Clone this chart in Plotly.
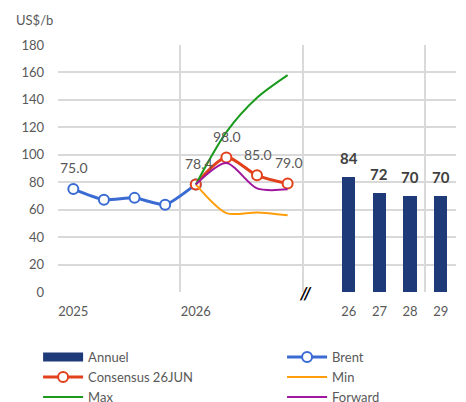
import plotly.graph_objects as go

# category positions: monthly points 0-7, a gap at 8, annual bars 9-12
brent_x = [0, 1, 2, 3, 4]
brent = [75.0, 67.2, 68.6, 63.5, 78.4]

fc_x = [4, 5, 6, 7]
consensus = [78.4, 98.0, 85.0, 79.0]
fc_min = [78.4, 57.5, 58.0, 56.0]
fc_max = [78.4, 116.5, 141.5, 158.0]
forward = [78.4, 94.0, 75.5, 74.8]

annual_x = [9, 10, 11, 12]
annual = [84, 72, 70, 70]

tick_pos = [0, 4, 9, 10, 11, 12]
tick_text = ["2025", "2026", "26", "27", "28", "29"]

FONT = "Lato, 'Open Sans', sans-serif"
GREY = "#595959"

fig = go.Figure()

fig.add_trace(go.Bar(
    x=annual_x, y=annual, width=0.43,
    marker=dict(color="#1F3A78", line=dict(width=0)),
    showlegend=False, hoverinfo="y"
))

# legend entries: left column (legend) and right column (legend2)
fig.add_trace(go.Scatter(
    x=[None], y=[None], mode="lines", name="Annuel", legend="legend",
    line=dict(color="#1F3A78", width=9)
))
fig.add_trace(go.Scatter(
    x=brent_x, y=brent, mode="lines+markers", name="Brent", legend="legend2",
    line=dict(color="#3A6BD2", width=3, shape="spline", smoothing=0.5),
    marker=dict(size=10, color="white", line=dict(color="#3A6BD2", width=2))
))
fig.add_trace(go.Scatter(
    x=fc_x, y=consensus, mode="lines+markers", name="Consensus 26JUN", legend="legend",
    line=dict(color="#E2411B", width=3, shape="spline", smoothing=0.8),
    marker=dict(size=10, color="white", line=dict(color="#E2411B", width=2))
))
fig.add_trace(go.Scatter(
    x=fc_x, y=fc_min, mode="lines", name="Min", legend="legend2",
    line=dict(color="#FF9E0A", width=2, shape="spline", smoothing=0.8)
))
fig.add_trace(go.Scatter(
    x=fc_x, y=fc_max, mode="lines", name="Max", legend="legend",
    line=dict(color="#1B9A1E", width=2, shape="spline", smoothing=0.8)
))
fig.add_trace(go.Scatter(
    x=fc_x, y=forward, mode="lines", name="Forward", legend="legend2",
    line=dict(color="#A0169E", width=2, shape="spline", smoothing=0.8)
))

annotations = []
# line data labels
annotations.append(dict(x=brent_x[0], y=brent[0], text=f"{brent[0]:.1f}",
                        yshift=22, xshift=1))
for i, (x, y) in enumerate(zip(fc_x, consensus)):
    annotations.append(dict(x=x, y=y, text=f"{y:.1f}", yshift=21,
                            xshift=3 if i == 0 else 1))
for a in annotations:
    a.update(showarrow=False, yanchor="middle",
             font=dict(family=FONT, size=14, color=GREY))
# bar data labels
for x, y in zip(annual_x, annual):
    annotations.append(dict(x=x, y=y, text=f"<b>{y}</b>", showarrow=False,
                            yanchor="middle", yshift=19,
                            font=dict(family=FONT, size=15, color="#404040")))
annotations.append(dict(xref="paper", yref="paper", x=-0.11, y=1.06,
                        xanchor="left", yanchor="bottom", text="US$/b",
                        showarrow=False, font=dict(family=FONT, size=13, color=GREY)))
# axis break mark
annotations.append(dict(x=7.6, y=0, text="<i><b>//</b></i>", showarrow=False,
                        yanchor="middle", font=dict(family=FONT, size=17, color="#000000")))

legend_style = dict(orientation="v", yanchor="top", y=-0.203, xanchor="left",
                    itemwidth=40, tracegroupgap=0, bgcolor="rgba(0,0,0,0)",
                    font=dict(family=FONT, size=13, color=GREY))

# the page body adds an 8px margin, so the figure is 8px smaller than the window
fig.update_layout(
    width=458, height=394,
    margin=dict(l=50, r=10, t=37, b=110, autoexpand=False),
    paper_bgcolor="white", plot_bgcolor="white",
    font=dict(family=FONT, size=13, color=GREY),
    annotations=annotations,
    bargap=0,
    legend=dict(x=-0.05, **legend_style),
    legend2=dict(x=0.563, **legend_style),
)

fig.update_xaxes(
    range=[-0.5, 12.5], tickvals=tick_pos, ticktext=tick_text,
    showgrid=False, zeroline=False, showline=False, ticks="",
    ticklabelstandoff=10,
    tickfont=dict(family=FONT, size=13, color=GREY),
    minor=dict(tickvals=[-0.5, 3.5, 7.5, 11.5], showgrid=True,
               gridcolor="#D9D9D9", gridwidth=1.5, ticks="")
)
fig.update_yaxes(
    range=[0, 180], dtick=20, showgrid=True, gridcolor="#D9D9D9", gridwidth=1.5,
    zeroline=False, showline=False, ticks="", ticklabelstandoff=13,
    tickfont=dict(family=FONT, size=13, color=GREY)
)

fig.write_html("out.html")
